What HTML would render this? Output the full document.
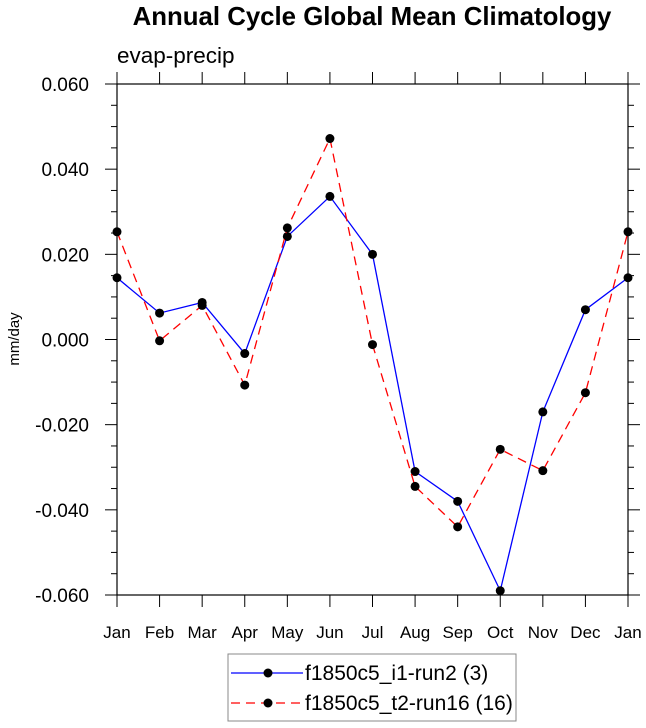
<!DOCTYPE html>
<html><head><meta charset="utf-8"><style>
body{margin:0;background:#fff}
svg{display:block;font-family:"Liberation Sans",sans-serif}
</style></head><body>
<svg id="chart" width="646" height="728" viewBox="0 0 646 728" xmlns="http://www.w3.org/2000/svg">
<text x="372" y="25" text-anchor="middle" font-size="25.8" font-weight="bold">Annual Cycle Global Mean Climatology</text>
<text x="117" y="63" font-size="22.5">evap-precip</text>
<text transform="translate(19,339) rotate(-90)" text-anchor="middle" font-size="15">mm/day</text>
<g id="axes"></g>
<g id="series"></g>
<g>
<rect x="228" y="654" width="288" height="67" fill="none" stroke="#888" stroke-width="1"/>
<line x1="231" y1="673" x2="303" y2="673" stroke="#00f" stroke-width="1.2"/>
<circle cx="268" cy="673" r="4.5" fill="#000"/>
<text x="305" y="680" font-size="21">f1850c5_i1-run2 (3)</text>
<line x1="231" y1="703" x2="303" y2="703" stroke="#f00" stroke-width="1.2" stroke-dasharray="9,6"/>
<circle cx="268" cy="703" r="4.5" fill="#000"/>
<text x="305" y="710" font-size="21">f1850c5_t2-run16 (16)</text>
</g>
</svg>
<script>
const months=["Jan","Feb","Mar","Apr","May","Jun","Jul","Aug","Sep","Oct","Nov","Dec","Jan"];
const yTicks=[0.06,0.04,0.02,0,-0.02,-0.04,-0.06];
const yTickLabels=["0.060","0.040","0.020","0.000","-0.020","-0.040","-0.060"];
const run2=[0.0145,0.0062,0.0087,-0.0033,0.0242,0.0336,0.0200,-0.0310,-0.0380,-0.0590,-0.0170,0.0070,0.0145];
const run16=[0.0253,-0.0003,0.0080,-0.0107,0.0262,0.0472,-0.0012,-0.0345,-0.0440,-0.0258,-0.0308,-0.0125,0.0253];
const L=117,R=628,T=84,B=595,ymin=-0.06,ymax=0.06;
const x=i=>L+(R-L)*i/(months.length-1);
const y=v=>B-(v-ymin)/(ymax-ymin)*(B-T);
const NS="http://www.w3.org/2000/svg";
function mk(p,tag,a){const e=document.createElementNS(NS,tag);for(const k in a)e.setAttribute(k,a[k]);p.appendChild(e);return e;}
const ax=document.getElementById('axes');
const frame=mk(ax,'rect',{x:L,y:T,width:R-L,height:B-T,fill:'none',stroke:'#000','stroke-width':1.2});


months.forEach((m,i)=>{
  mk(ax,'line',{x1:x(i),y1:B,x2:x(i),y2:B+12,stroke:'#000'});
  mk(ax,'line',{x1:x(i),y1:T,x2:x(i),y2:T-12,stroke:'#000'});
  const t=mk(ax,'text',{x:x(i),y:B+43,'text-anchor':'middle','font-size':17});
  t.textContent=m;
  
  
});
for(let k=0;k<=24;k++){
  const v=ymin+k*0.005, yy=y(v), major=k%4===0;
  const len=major?12:6;
  mk(ax,'line',{x1:L,y1:yy,x2:L-len,y2:yy,stroke:'#000'});
  mk(ax,'line',{x1:R,y1:yy,x2:R+len,y2:yy,stroke:'#000'});
}
yTicks.forEach((v,i)=>{
  const t=mk(ax,'text',{x:L-28,y:y(v)+7,'text-anchor':'end','font-size':19});
  t.textContent=yTickLabels[i];
  
  
});
const sg=document.getElementById('series');
function series(data,color,dash,name){
  const g=mk(sg,'g',{});
  
  
  const a={points:data.map((v,i)=>x(i)+','+y(v)).join(' '),fill:'none',stroke:color,'stroke-width':1.3};
  if(dash)a['stroke-dasharray']=dash;
  const pl=mk(g,'polyline',a);
  
  
  data.forEach((v,i)=>{
    const c=mk(g,'circle',{cx:x(i),cy:y(v),r:4.5,fill:'#000'});
    
    
  });
}
series(run2,'#00f',null,'series-run2');
series(run16,'#f00','9,6','series-run16');
</script>
</body></html>
